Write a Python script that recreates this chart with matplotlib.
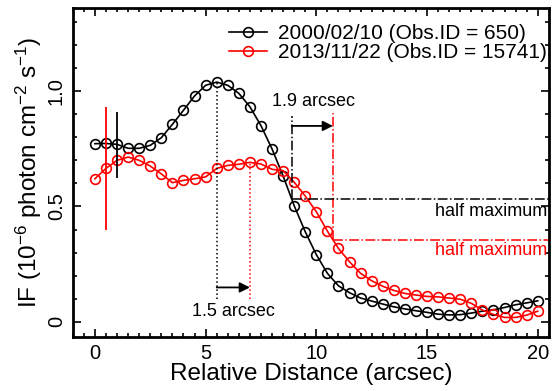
import numpy as np
import matplotlib
matplotlib.use("Agg")
import matplotlib.pyplot as plt
from matplotlib.ticker import MultipleLocator

plt.rcParams['font.family'] = ['Liberation Sans', 'DejaVu Sans']
plt.rcParams['mathtext.default'] = 'regular'

# relative distance (arcsec), 0.5 arcsec steps
dist = np.arange(0, 20.01, 0.5)

# 2000/02/10 (Obs.ID = 650)
if_2000 = [0.772, 0.773, 0.769, 0.752, 0.752, 0.765, 0.798, 0.856, 0.917, 0.979,
           1.025, 1.039, 1.025, 0.990, 0.932, 0.850, 0.749, 0.632, 0.503, 0.390,
           0.291, 0.210, 0.156, 0.126, 0.103, 0.090, 0.077, 0.065, 0.056, 0.048,
           0.041, 0.033, 0.030, 0.031, 0.038, 0.046, 0.052, 0.062, 0.074, 0.082,
           0.091]
# 2013/11/22 (Obs.ID = 15741)
if_2013 = [0.620, 0.665, 0.700, 0.714, 0.700, 0.675, 0.641, 0.603, 0.613, 0.620,
           0.628, 0.665, 0.678, 0.683, 0.691, 0.684, 0.661, 0.655, 0.605, 0.545,
           0.477, 0.393, 0.318, 0.260, 0.210, 0.178, 0.154, 0.136, 0.123, 0.116,
           0.110, 0.108, 0.103, 0.098, 0.080, 0.051, 0.032, 0.019, 0.019, 0.029,
           0.046]

# typical error bars
err_x = [1.0, 0.5]
err_lo = [0.622, 0.398]
err_hi = [0.908, 0.932]

# peak positions and half-maximum positions
peak_x = [5.5, 7.0]
peak_y = [1.039, 0.691]
hm_x = [8.89, 10.75]
hm_y = [0.532, 0.356]

fig = plt.figure(figsize=(5.6, 3.91), dpi=100)
ax = fig.add_axes([0.130, 0.138, 0.850, 0.8415])

ax.plot(dist, if_2000, '-o', color='black', lw=1.2, ms=7, mfc='none', mew=1.2,
        label='2000/02/10 (Obs.ID = 650)')
ax.plot(dist, if_2013, '-o', color='red', lw=1.2, ms=7, mfc='none', mew=1.2,
        label='2013/11/22 (Obs.ID = 15741)')

ax.vlines(err_x[0], err_lo[0], err_hi[0], color='black', lw=1.3)
ax.vlines(err_x[1], err_lo[1], err_hi[1], color='red', lw=1.3)

# peak shift
ax.plot([peak_x[0], peak_x[0]], [0.10, peak_y[0]], ':', color='black', lw=1.1)
ax.plot([peak_x[1], peak_x[1]], [0.10, peak_y[1]], ':', color='red', lw=1.1)
ax.annotate('', xy=(peak_x[1], 0.149), xytext=(peak_x[0], 0.149),
            arrowprops=dict(arrowstyle='-|>', color='black', lw=1.3,
                            mutation_scale=15, shrinkA=0, shrinkB=0))
ax.text(6.25, 0.043, '1.5 arcsec', fontsize=13, ha='center', va='center')

# half maximum shift
ax.plot([hm_x[0], hm_x[0]], [hm_y[0], 0.892], '-.', color='black', lw=1.1)
ax.plot([hm_x[1], hm_x[1]], [hm_y[1], 0.905], '-.', color='red', lw=1.1)
ax.plot([hm_x[0], 20.5], [hm_y[0], hm_y[0]], '-.', color='black', lw=1.1)
ax.plot([hm_x[1], 20.5], [hm_y[1], hm_y[1]], '-.', color='red', lw=1.1)
ax.annotate('', xy=(hm_x[1], 0.849), xytext=(hm_x[0], 0.849),
            arrowprops=dict(arrowstyle='-|>', color='black', lw=1.3,
                            mutation_scale=15, shrinkA=0, shrinkB=0))
ax.text(9.85, 0.953, '1.9 arcsec', fontsize=13, ha='center', va='center')
ax.text(20.45, 0.477, 'half maximum', fontsize=13, ha='right', va='center')
ax.text(20.45, 0.307, 'half maximum', fontsize=13, ha='right', va='center',
        color='red')

ax.set_xlim(-1, 20.5)
ax.set_ylim(-0.066, 1.36)
ax.xaxis.set_major_locator(MultipleLocator(5))
ax.xaxis.set_minor_locator(MultipleLocator(0.5))
ax.yaxis.set_major_locator(MultipleLocator(0.5))
ax.yaxis.set_minor_locator(MultipleLocator(0.1))
ax.set_yticks([0, 0.5, 1.0])
ax.set_yticklabels(['0', '0.5', '1.0'], rotation=90, va='center')
ax.tick_params(which='both', direction='in', top=True, right=True, width=1.2)
ax.tick_params(which='major', length=6, labelsize=14.5, pad=5)
ax.tick_params(which='minor', length=3)
for s in ax.spines.values():
    s.set_linewidth(2)

ax.set_xlabel('Relative Distance (arcsec)', fontsize=17.5, labelpad=0)
ax.set_ylabel('IF (10$^{-6}$ photon cm$^{-2}$ s$^{-1}$)', fontsize=17.5, labelpad=2)

ax.legend(loc='upper right', bbox_to_anchor=(0.996, 0.95), frameon=False,
          fontsize=15, handlelength=1.8, handletextpad=0.55, labelspacing=0.0,
          borderaxespad=0, borderpad=0)

fig.savefig('out.png', dpi=100)
